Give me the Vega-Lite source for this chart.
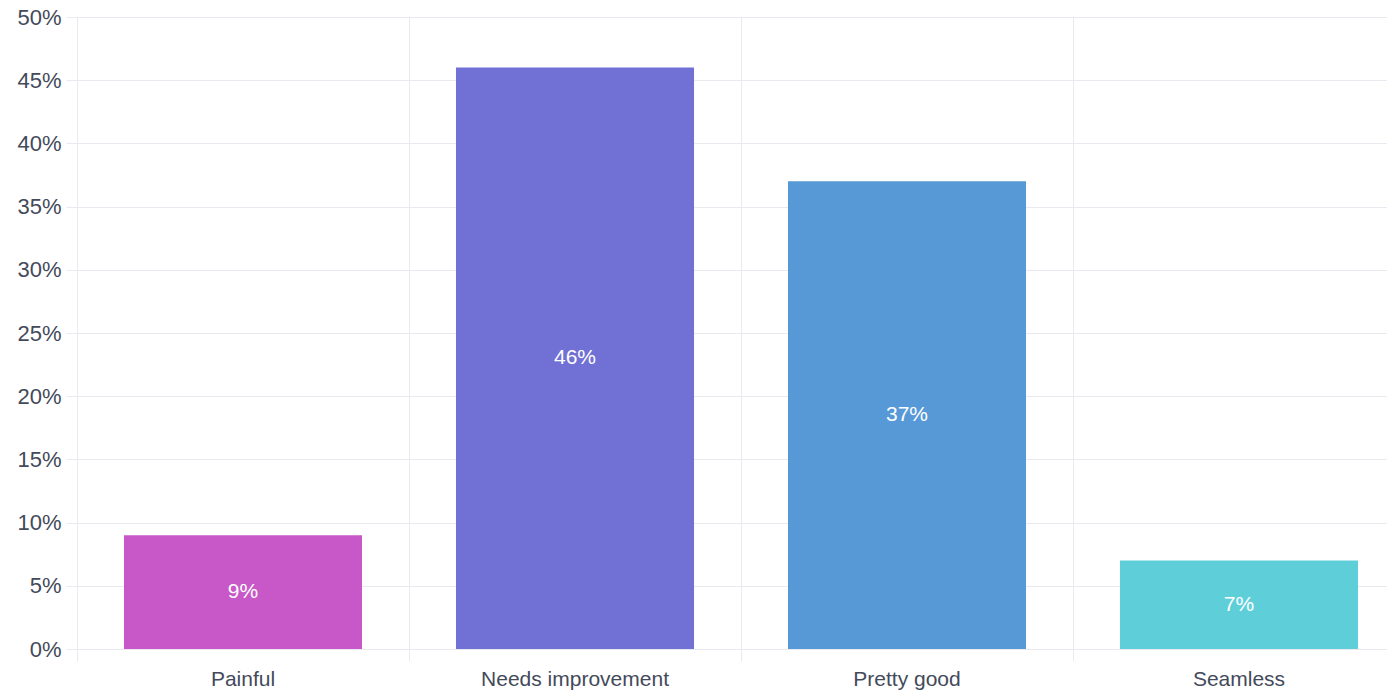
{
  "$schema": "https://vega.github.io/schema/vega-lite/v6.json",
  "autosize": "none",
  "width": 1310,
  "height": 632,
  "padding": {"left": 77, "top": 17, "right": 0, "bottom": 43},
  "background": "white",
  "config": {
    "view": {"stroke": null},
    "font": "Liberation Sans"
  },
  "data": {
    "values": [
      {"category": "Painful", "value": 0.09},
      {"category": "Needs improvement", "value": 0.46},
      {"category": "Pretty good", "value": 0.37},
      {"category": "Seamless", "value": 0.07}
    ]
  },
  "encoding": {
    "x": {
      "field": "category",
      "type": "nominal",
      "sort": null,
      "scale": {"range": [0, 1328], "paddingInner": 0, "paddingOuter": 0},
      "axis": {
        "title": null,
        "bandPosition": 0,
        "labelAngle": 0,
        "labelLimit": 400,
        "labelFontSize": 21,
        "labelColor": "#434a5a",
        "labelPadding": 7,
        "tickSize": 12,
        "tickColor": "#e8eaef",
        "grid": true,
        "gridColor": "#e8eaef",
        "domain": false
      }
    }
  },
  "layer": [
    {
      "mark": {"type": "bar", "width": {"band": 0.717}},
      "encoding": {
        "y": {
          "field": "value",
          "type": "quantitative",
          "scale": {"domain": [0, 0.5]},
          "axis": {
            "title": null,
            "format": ".0%",
            "values": [0, 0.05, 0.1, 0.15, 0.2, 0.25, 0.3, 0.35, 0.4, 0.45, 0.5],
            "labelFontSize": 22,
            "labelColor": "#434a5a",
            "labelPadding": 5,
            "tickSize": 11,
            "tickColor": "#e8eaef",
            "gridColor": "#e8eaef",
            "domain": false
          }
        },
        "color": {
          "field": "category",
          "type": "nominal",
          "sort": null,
          "scale": {
            "domain": ["Painful", "Needs improvement", "Pretty good", "Seamless"],
            "range": ["#c858c7", "#7170d5", "#5699d6", "#5ecfd9"]
          },
          "legend": null
        }
      }
    },
    {
      "transform": [{"calculate": "datum.value / 2", "as": "mid"}],
      "mark": {"type": "text", "color": "white", "fontSize": 21, "baseline": "middle", "align": "center"},
      "encoding": {
        "y": {"field": "mid", "type": "quantitative"},
        "text": {"field": "value", "type": "quantitative", "format": ".0%"}
      }
    }
  ]
}
